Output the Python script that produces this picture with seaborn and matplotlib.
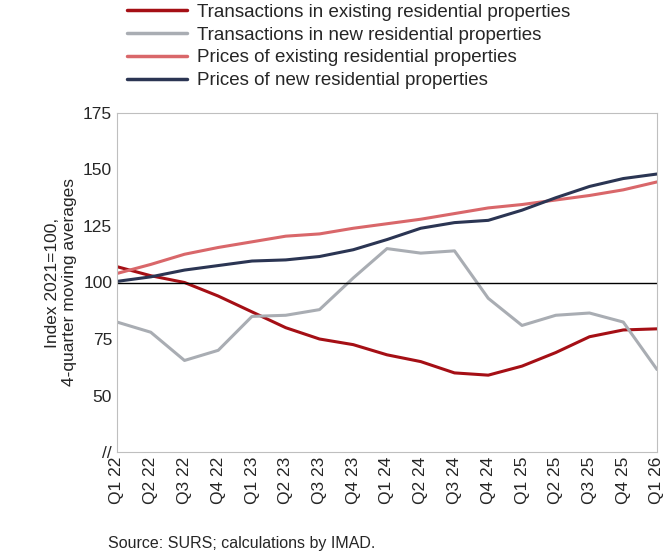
import matplotlib
matplotlib.use("Agg")
import matplotlib.pyplot as plt
import seaborn as sns
import pandas as pd

quarters = ["Q1 22","Q2 22","Q3 22","Q4 22","Q1 23","Q2 23","Q3 23","Q4 23",
            "Q1 24","Q2 24","Q3 24","Q4 24","Q1 25","Q2 25","Q3 25","Q4 25","Q1 26"]
trans_existing = [107,103,100,94,87,80,75,72.5,68,65,60,59,63,69,76,79,79.5]
trans_new = [82.5,78,65.5,70,85,85.5,88,102,115,113,114,93,81,85.5,86.5,82.5,61.5]
prices_existing = [104,108,112.5,115.5,118,120.5,121.5,124,126,128,130.5,133,134.5,136.5,138.5,141,144.5]
prices_new = [100.5,102.5,105.5,107.5,109.5,110,111.5,114.5,119,124,126.5,127.5,132,137.5,142.5,146,148]

names = ["Transactions in existing residential properties",
         "Transactions in new residential properties",
         "Prices of existing residential properties",
         "Prices of new residential properties"]
colors = ["#A50F15", "#A9ADB3", "#D9676A", "#2B3553"]
series = [trans_existing, trans_new, prices_existing, prices_new]

rows = []
for n, s in zip(names, series):
    for i, (q, v) in enumerate(zip(quarters, s)):
        rows.append({"x": i, "q": q, "value": v, "series": n})
df = pd.DataFrame(rows)

sns.set_style("white")
plt.rcParams["font.family"] = ["Liberation Sans", "DejaVu Sans"]
fig = plt.figure(figsize=(6.7, 5.58), dpi=100)
ax = fig.add_axes([117/670, 1-452/558, 540/670, 339/558])
sns.lineplot(data=df, x="x", y="value", hue="series", palette=dict(zip(names, colors)),
             hue_order=names, linewidth=2.2, ax=ax, legend=False)
ax.axhline(100, color="black", linewidth=1)
ax.set_xlim(0, len(quarters)-1)
ax.set_ylim(25, 175)
ax.set_yticks([25,50,75,100,125,150,175])
ax.set_yticklabels(["//","50","75","100","125","150","175"], fontsize=12.5)
ax.set_xticks(range(len(quarters)))
ax.set_xticklabels(quarters, rotation=90, fontsize=12.5)
ax.set_xlabel("")
ax.set_ylabel("Index 2021=100,\n4-quarter moving averages", fontsize=12.5)
for sp in ax.spines.values():
    sp.set_color("#BFBFBF")
ax.tick_params(length=0)
from matplotlib.lines import Line2D
handles = [Line2D([0],[0], color=c, lw=2.5) for c in colors]
fig.legend(handles, names, loc="upper left", bbox_to_anchor=(118/670, 1.01), frameon=False,
           fontsize=13.5, handlelength=3.2, handletextpad=0.5, labelspacing=0.3, borderaxespad=0.1)
fig.text(108/670, 1-548/558, "Source: SURS; calculations by IMAD.", fontsize=11.5)
fig.savefig("out.png", dpi=100)
